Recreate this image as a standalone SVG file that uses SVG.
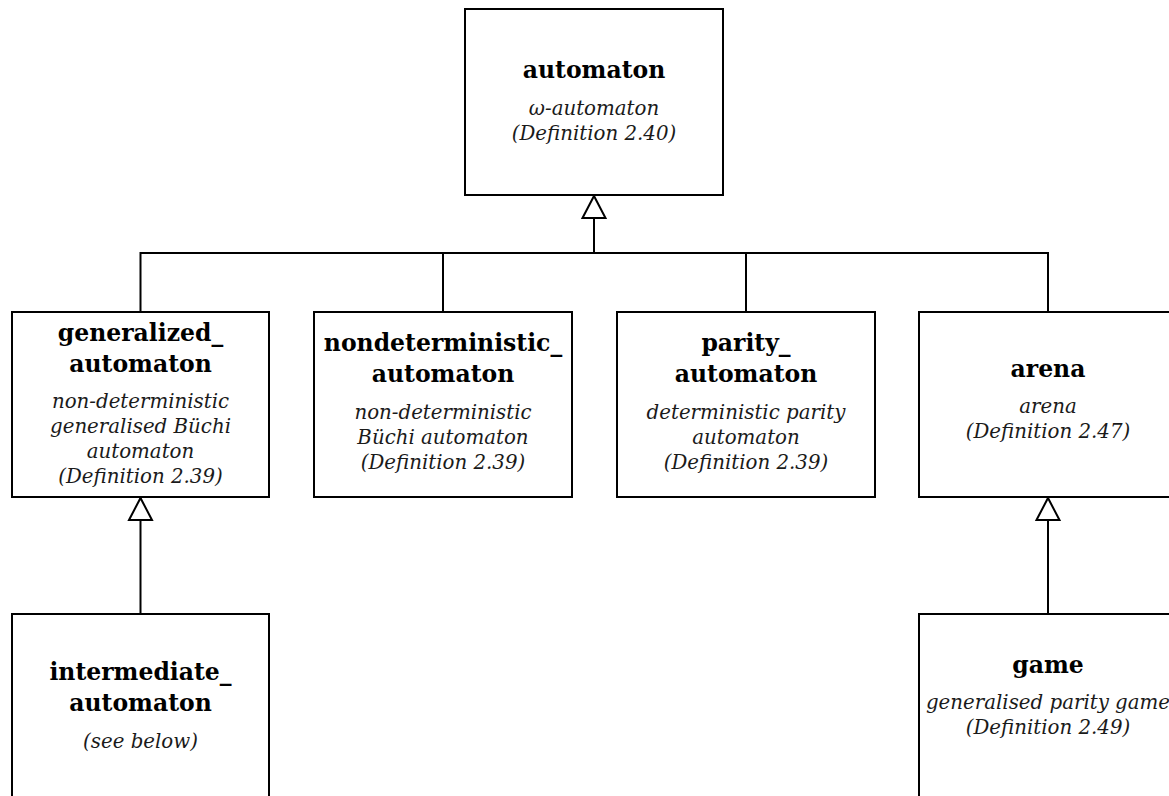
<svg xmlns="http://www.w3.org/2000/svg" width="1169" height="796" viewBox="0 0 1169 796">
  <style>
    .box { fill: #ffffff; stroke: #000000; stroke-width: 2; }
    .edge { fill: none; stroke: #000000; stroke-width: 2; }
    .name { font-family: "DejaVu Serif", serif; font-weight: bold; font-size: 23.5px; text-anchor: middle; fill: #000000; }
    .desc { font-family: "DejaVu Serif", serif; font-style: italic; font-size: 19.8px; text-anchor: middle; fill: #1a1a1a; }
  </style>
  <defs>
    <!-- hollow triangle: UML generalisation head -->
    <marker id="inherit" markerUnits="userSpaceOnUse" markerWidth="24" markerHeight="24" refX="22" refY="11.5" orient="auto" overflow="visible">
      <path d="M0,0 L22,11.5 L0,23 z" fill="#ffffff" stroke="#000000" stroke-width="2" stroke-linejoin="miter"/>
    </marker>
  </defs>
  <rect width="1169" height="796" fill="#ffffff"/>

  <!-- class hierarchy edges -->
  <g id="connectors">
    <path class="edge" d="M140.5 312 V253 H1048 V312"/>
    <path class="edge" d="M443 312 V253"/>
    <path class="edge" d="M746 312 V253"/>
    <path class="edge" d="M594 253 V196" marker-end="url(#inherit)"/>
    <path class="edge" d="M140.5 614 V498" marker-end="url(#inherit)"/>
    <path class="edge" d="M1048 614 V498" marker-end="url(#inherit)"/>
  </g>

  <g id="automaton">
    <rect class="box" x="465" y="9" width="258" height="186"/>
    <text class="name" x="594" y="78">automaton</text>
    <text class="desc" x="594" y="115">ω-automaton</text>
    <text class="desc" x="594" y="140">(Definition 2.40)</text>
  </g>

  <g id="generalized_automaton">
    <rect class="box" x="12" y="312" width="257" height="185"/>
    <text class="name" x="140.5" y="341">generalized_</text>
    <text class="name" x="140.5" y="372">automaton</text>
    <text class="desc" x="140.5" y="408">non-deterministic</text>
    <text class="desc" x="140.5" y="433">generalised Büchi</text>
    <text class="desc" x="140.5" y="458">automaton</text>
    <text class="desc" x="140.5" y="483">(Definition 2.39)</text>
  </g>

  <g id="nondeterministic_automaton">
    <rect class="box" x="314" y="312" width="258" height="185"/>
    <text class="name" x="443" y="351">nondeterministic_</text>
    <text class="name" x="443" y="382">automaton</text>
    <text class="desc" x="443" y="419">non-deterministic</text>
    <text class="desc" x="443" y="444">Büchi automaton</text>
    <text class="desc" x="443" y="469">(Definition 2.39)</text>
  </g>

  <g id="parity_automaton">
    <rect class="box" x="617" y="312" width="258" height="185"/>
    <text class="name" x="746" y="351">parity_</text>
    <text class="name" x="746" y="382">automaton</text>
    <text class="desc" x="746" y="419">deterministic parity</text>
    <text class="desc" x="746" y="444">automaton</text>
    <text class="desc" x="746" y="469">(Definition 2.39)</text>
  </g>

  <g id="arena">
    <rect class="box" x="919" y="312" width="258" height="185"/>
    <text class="name" x="1048" y="377">arena</text>
    <text class="desc" x="1048" y="413">arena</text>
    <text class="desc" x="1048" y="438">(Definition 2.47)</text>
  </g>

  <g id="intermediate_automaton">
    <rect class="box" x="12" y="614" width="257" height="186"/>
    <text class="name" x="140.5" y="680">intermediate_</text>
    <text class="name" x="140.5" y="711">automaton</text>
    <text class="desc" x="140.5" y="748">(see below)</text>
  </g>

  <g id="game">
    <rect class="box" x="919" y="614" width="258" height="186"/>
    <text class="name" x="1048" y="673">game</text>
    <text class="desc" x="1048" y="709">generalised parity game</text>
    <text class="desc" x="1048" y="734">(Definition 2.49)</text>
  </g>
</svg>
